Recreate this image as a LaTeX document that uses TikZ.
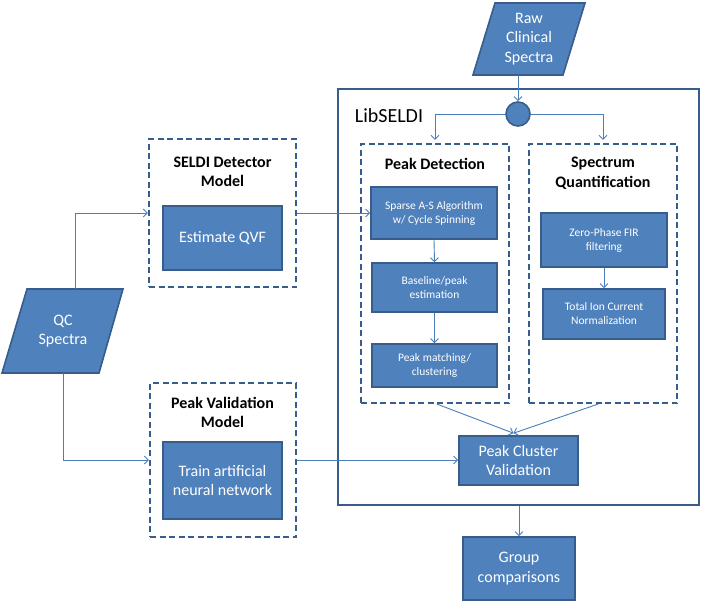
\documentclass[tikz,border=0pt]{standalone}
\usepackage{fontspec}
\setmainfont{Carlito}
\usetikzlibrary{arrows.meta,calc}
\definecolor{bfill}{HTML}{4F81BD}
\definecolor{bdraw}{HTML}{385D8A}
\definecolor{lineblue}{HTML}{4A7EBB}
\begin{document}
\begin{tikzpicture}[x=1pt,y=-1pt,
  solidbox/.style={draw=bdraw,fill=bfill,line width=1.6pt,text=white,align=center,inner sep=0pt},
  bigtext/.style={font=\fontsize{16}{19.5}\selectfont},
  smalltext/.style={font=\fontsize{11.5}{14}\selectfont},
  dbox/.style={draw=bdraw,line width=2.2pt,dash pattern=on 6pt off 3.5pt,inner sep=0pt},
  titletext/.style={font=\fontsize{16}{19.5}\selectfont\bfseries,align=center,text=black},
  arr/.style={draw=lineblue,line width=0.9pt,-{Straight Barb[length=4pt,width=8pt]}},
  para/.style={draw=bdraw,fill=bfill,line width=1.6pt},
  paratext/.style={text=white,align=center,inner sep=0pt,font=\fontsize{16}{19.5}\selectfont},
]
\fill[white] (0,0) rectangle (704,605);
\useasboundingbox (0,0) rectangle (704,605);

% parallelograms
\draw[para] (495,3) -- (585,3) -- (563,75) -- (473,75) -- cycle;
\node[paratext,minimum height=72pt,minimum width=80pt] (raw) at (529,39) {Raw\\Clinical\\Spectra};
\draw[para] (27,289) -- (123,289) -- (99,373) -- (2,373) -- cycle;
\node[paratext,minimum height=84pt,minimum width=60pt] (qc) at (63,331) {QC\\Spectra};

% LibSELDI container
\node[draw=bdraw,line width=2.2pt,minimum width=361pt,minimum height=416pt,inner sep=0pt] (lib) at (518.5,297) {};
\node[font=\fontsize{20}{24}\selectfont,inner sep=0pt] (libl) at (389,116) {LibSELDI};
\node[circle,draw=bdraw,fill=bfill,line width=1.6pt,minimum size=24pt,inner sep=0pt] (circ) at (518,114) {};

% dashed groups
\node[dbox,minimum width=147pt,minimum height=148pt] (sel) at (222.5,213) {};
\node[titletext] (selt) at (222.5,172) {SELDI Detector\\Model};
\node[solidbox,bigtext,minimum width=119pt,minimum height=64pt] (qvf) at (222.5,238) {Estimate QVF};

\node[dbox,minimum width=146pt,minimum height=154pt] (pv) at (223,460) {};
\node[titletext] (pvt) at (222.5,412.5) {Peak Validation\\Model};
\node[solidbox,bigtext,minimum width=119pt,minimum height=77pt] (ann) at (222.5,480.5) {Train artificial\\neural network};

\node[dbox,minimum width=148pt,minimum height=259pt] (pd) at (435,273.5) {};
\node[titletext] (pdt) at (435,164) {Peak Detection};
\node[solidbox,smalltext,minimum width=126pt,minimum height=52pt] (sas) at (434,213) {Sparse A-S Algorithm\\w/ Cycle Spinning};
\node[solidbox,smalltext,minimum width=125pt,minimum height=49pt] (bpe) at (434.5,287.5) {Baseline/peak\\estimation};
\node[solidbox,smalltext,minimum width=125pt,minimum height=43pt] (pmc) at (434.5,365.5) {Peak matching/\\clustering};

\node[dbox,minimum width=148pt,minimum height=259pt] (sq) at (603,273.5) {};
\node[titletext] (sqt) at (603,173.5) {Spectrum\\Quantification};
\node[solidbox,smalltext,minimum width=126pt,minimum height=54pt] (zfir) at (604,240) {Zero-Phase FIR\\filtering};
\node[solidbox,smalltext,minimum width=122pt,minimum height=50pt] (tic) at (604,314) {Total Ion Current\\Normalization};

\node[solidbox,bigtext,minimum width=119pt,minimum height=49pt] (pcv) at (518.5,460.5) {Peak Cluster\\Validation};
\node[solidbox,bigtext,minimum width=112pt,minimum height=63pt] (grp) at (519,568.5) {Group\\comparisons};

% connectors
\draw[arr] (raw.south -| circ) -- (circ.north);
\draw[arr] (circ.west) -| ([yshift=3pt]pd.north);
\draw[arr] (circ.east) -| ([yshift=3pt]sq.north);
\draw[arr] ([xshift=12pt]qc.north) |- (sel.west);
\draw[arr] (sel.east) -- (sas.west);
\draw[arr] (sas.south) -- (bpe.north);
\draw[arr] (bpe.south) -- (pmc.north);
\draw[arr] (zfir.south) -- (tic.north);
\draw[arr] (qc.south) |- (pv.west);
\draw[arr] (pv.east) -- (pv.east -| pcv.west);
\draw[arr] ([xshift=2pt]pd.south) -- ([xshift=-5pt,yshift=2pt]pcv.north);
\draw[arr] ([xshift=-5pt]sq.south) -- ([xshift=-5pt,yshift=2pt]pcv.north);
\draw[arr] (lib.south -| grp) -- (grp.north);
\end{tikzpicture}
\end{document}
